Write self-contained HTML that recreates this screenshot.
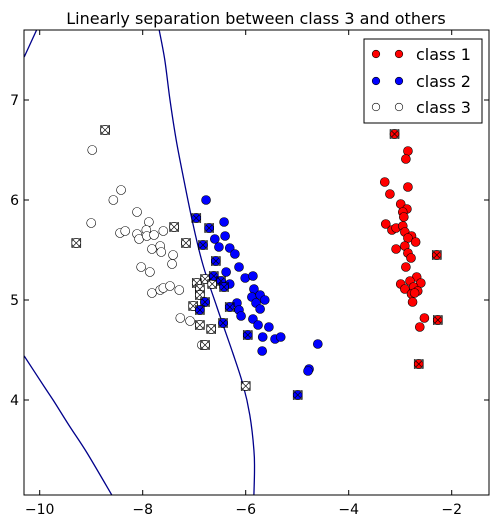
<!DOCTYPE html>
<html><head><meta charset="utf-8"><style>
body{margin:0;background:#fff;}
svg text{font-family:"DejaVu Sans","Liberation Sans",sans-serif;}
</style></head><body>
<svg id="chart" width="499" height="525" xmlns="http://www.w3.org/2000/svg">
<text x="256" y="24" font-size="16" text-anchor="middle">Linearly separation between class 3 and others</text>
<g id="plot"></g>
</svg>
<script>
const xTicks=[-10,-8,-6,-4,-2];
const yTicks=[4,5,6,7];
const c1x=[-3.11,-2.85,-2.89,-3.30,-2.85,-3.20,-2.99,-2.87,-2.95,-2.93,-3.28,-3.16,-3.08,-2.95,-2.91,-2.78,-2.85,-2.70,-2.91,-3.08,-2.85,-2.79,-2.29,-2.89,-2.68,-2.81,-2.99,-2.60,-2.91,-2.74,-2.66,-2.78,-2.72,-2.76,-2.53,-2.27,-2.62,-2.64];
const c1y=[6.66,6.49,6.41,6.18,6.13,6.06,5.96,5.91,5.88,5.83,5.76,5.70,5.72,5.74,5.68,5.64,5.62,5.58,5.54,5.51,5.47,5.42,5.45,5.33,5.23,5.19,5.16,5.17,5.11,5.13,5.09,5.06,5.07,4.98,4.82,4.80,4.73,4.36];
const c1sv=[1,0,0,0,0,0,0,0,0,0,0,0,0,0,0,0,0,0,0,0,0,0,1,0,0,0,0,0,0,0,0,0,0,0,0,1,0,1];
const c2x=[-6.77,-6.96,-6.42,-6.71,-6.40,-6.60,-6.52,-6.83,-6.31,-6.21,-6.58,-6.13,-6.38,-6.01,-5.86,-6.62,-6.48,-6.31,-6.42,-5.84,-5.88,-5.72,-5.80,-5.63,-5.72,-6.17,-6.31,-6.13,-6.09,-6.79,-6.89,-5.86,-5.76,-5.55,-6.44,-5.96,-5.67,-5.43,-5.32,-5.68,-4.60,-4.77,-4.79,-4.99];
const c2y=[6.00,5.82,5.78,5.72,5.64,5.61,5.53,5.55,5.52,5.46,5.39,5.33,5.28,5.22,5.24,5.24,5.19,5.16,5.13,5.11,5.03,5.05,4.97,5.00,4.91,4.97,4.93,4.90,4.84,4.98,4.90,4.81,4.75,4.73,4.77,4.65,4.63,4.61,4.63,4.49,4.56,4.31,4.29,4.05];
const c2sv=[0,1,0,1,0,0,0,1,0,0,1,0,0,0,0,1,1,0,1,0,0,0,0,0,0,0,1,0,0,1,1,0,0,0,1,1,0,0,0,0,0,0,0,1];
const c3x=[-8.98,-8.42,-8.57,-8.11,-9.00,-7.88,-8.44,-8.34,-8.11,-8.07,-7.93,-7.92,-7.78,-7.60,-7.82,-7.66,-7.64,-7.41,-7.43,-8.03,-7.86,-7.82,-7.66,-7.60,-7.47,-7.29,-7.27,-7.08,-6.85,-8.73,-9.29,-7.39,-7.16,-6.79,-6.95,-6.65,-6.89,-6.89,-7.02,-6.89,-6.67,-6.79,-6.00];
const c3y=[6.50,6.10,6.00,5.88,5.77,5.78,5.67,5.69,5.66,5.61,5.70,5.64,5.65,5.69,5.51,5.54,5.48,5.45,5.36,5.33,5.28,5.07,5.10,5.12,5.14,5.10,4.82,4.79,4.55,6.70,5.57,5.73,5.57,5.21,5.17,5.16,5.11,5.05,4.94,4.75,4.71,4.55,4.14];
const c3sv=[0,0,0,0,0,0,0,0,0,0,0,0,0,0,0,0,0,0,0,0,0,0,0,0,0,0,0,0,0,1,1,1,1,1,1,1,1,1,1,1,1,1,1];
// decision boundary curves (data coords)
const bMainX=[-7.68,-7.57,-7.47,-7.35,-7.20,-7.02,-6.83,-6.56,-6.25,-6.05,-5.92,-5.84,-5.83,-5.84];
const bMainY=[7.70,7.40,7.00,6.60,6.20,5.75,5.35,4.93,4.47,4.15,3.85,3.50,3.30,3.05];
const bTLX=[-10.30,-10.06];
const bTLY=[7.43,7.70];
const bBLX=[-10.30,-9.92,-9.74,-9.41,-9.08,-8.60];
const bBLY=[4.44,4.14,4.00,3.73,3.47,3.05];

const NS='http://www.w3.org/2000/svg';
const L=24,R=489,T=30,B=495;
const X=v=>39.7+(v+10)*51.5;
const Y=v=>100+(7-v)*100;
const plot=document.getElementById('plot');
function mk(t,a,p){const e=document.createElementNS(NS,t);for(const k in a)e.setAttribute(k,a[k]);(p||plot).appendChild(e);return e;}
const defs=mk('defs',{});
const cp=mk('clipPath',{id:'clip'},defs);mk('rect',{x:L,y:T,width:R-L,height:B-T},cp);
const g=mk('g',{'clip-path':'url(#clip)'});


function curve(xs,ys,name){
  const P=xs.map((v,i)=>[X(v),Y(ys[i])]);
  let d='M'+P[0][0].toFixed(1)+','+P[0][1].toFixed(1);
  for(let i=0;i<P.length-1;i++){
    const p0=P[Math.max(i-1,0)],p1=P[i],p2=P[i+1],p3=P[Math.min(i+2,P.length-1)];
    const c1=[p1[0]+(p2[0]-p0[0])/6,p1[1]+(p2[1]-p0[1])/6];
    const c2=[p2[0]-(p3[0]-p1[0])/6,p2[1]-(p3[1]-p1[1])/6];
    d+=` C${c1[0].toFixed(1)},${c1[1].toFixed(1)} ${c2[0].toFixed(1)},${c2[1].toFixed(1)} ${p2[0].toFixed(1)},${p2[1].toFixed(1)}`;
  }
  const p=mk('path',{d:d,fill:'none',stroke:'#00008b','stroke-width':1.3},g);
  
  
}
curve(bMainX,bMainY,'decision-boundary-main');
curve(bTLX,bTLY,'decision-boundary-top-left');
curve(bBLX,bBLY,'decision-boundary-bottom-left');
function pts(xs,ys,sv,fill,name){
  xs.forEach((v,i)=>{
    const cx=X(v),cy=Y(ys[i]);
    const c=mk('circle',{cx:cx,cy:cy,r:4.5,fill:fill,stroke:'#000','stroke-width':0.6},g);
    
    
    if(sv[i]){
      const s=mk('path',{d:`M${cx-4.5},${cy-4.5}h9v9h-9z M${cx-4.5},${cy-4.5}L${cx+4.5},${cy+4.5} M${cx+4.5},${cy-4.5}L${cx-4.5},${cy+4.5}`,fill:'none',stroke:'#000','stroke-width':0.6},g);
      
      
    }
  });
}
pts(c3x,c3y,c3sv,'#fff','class-3');
pts(c2x,c2y,c2sv,'#0000ff','class-2');
pts(c1x,c1y,c1sv,'#ff0000','class-1');
// axes frame
const fr=mk('rect',{x:L,y:T,width:R-L,height:B-T,fill:'none',stroke:'#000','stroke-width':1});


xTicks.forEach(v=>{
  const x=X(v);
  mk('line',{x1:x,x2:x,y1:B,y2:B-5,stroke:'#000'});
  mk('line',{x1:x,x2:x,y1:T,y2:T+5,stroke:'#000'});
  const t=mk('text',{x:x,y:B+19,'font-size':14,'text-anchor':'middle'});
  t.textContent=(v<0?'\u2212':'')+Math.abs(v);
  
  
});
yTicks.forEach(v=>{
  const y=Y(v);
  mk('line',{x1:L,x2:L+5,y1:y,y2:y,stroke:'#000'});
  mk('line',{x1:R,x2:R-5,y1:y,y2:y,stroke:'#000'});
  const t=mk('text',{x:L-5,y:y+5,'font-size':14,'text-anchor':'end'});
  t.textContent=v;
  
  
});
// legend
const lg=mk('g',{});


mk('rect',{x:364,y:39,width:118,height:84,fill:'#fff',stroke:'#000','stroke-width':1},lg);
const labels=['class 1','class 2','class 3'],cols=['#ff0000','#0000ff','#fff'],rows=[54,81,107];
labels.forEach((s,i)=>{
  const e=mk('g',{},lg);
  
  
  mk('circle',{cx:376,cy:rows[i],r:3.8,fill:cols[i],stroke:'#000','stroke-width':0.6},e);
  mk('circle',{cx:399,cy:rows[i],r:3.8,fill:cols[i],stroke:'#000','stroke-width':0.6},e);
  const t=mk('text',{x:416,y:rows[i]+6,'font-size':16},e);t.textContent=s;
});
</script>
</body></html>
